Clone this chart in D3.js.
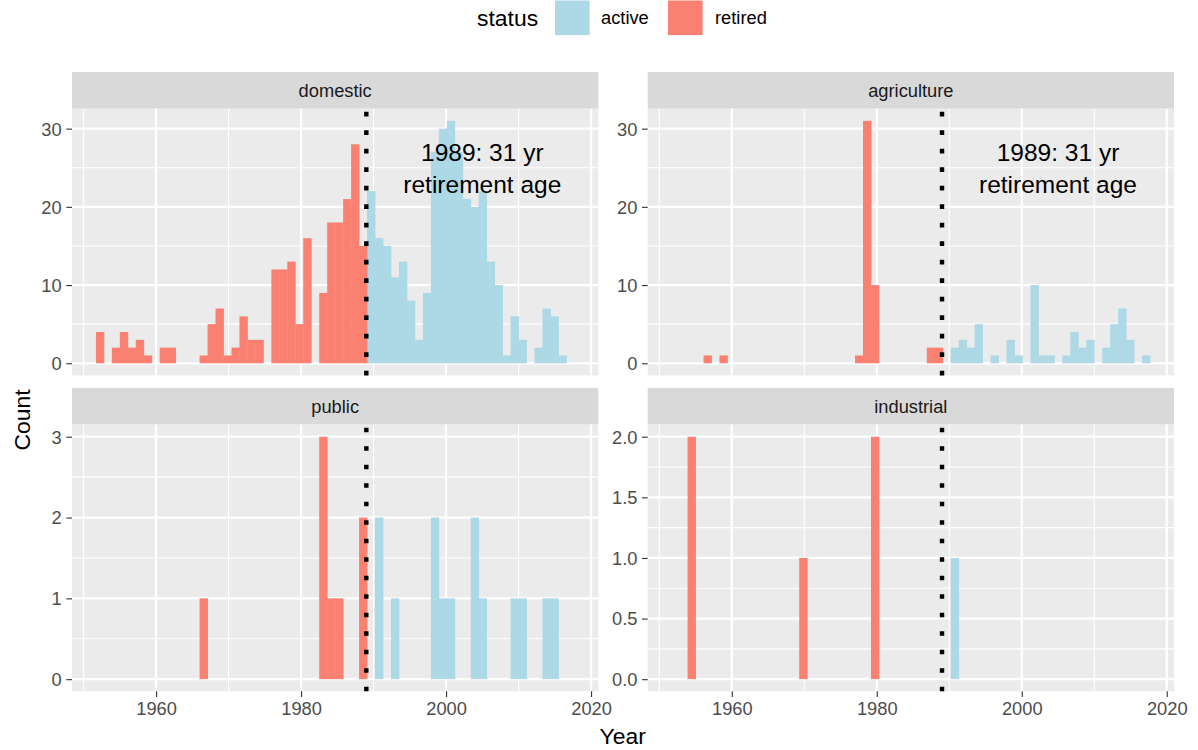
<!DOCTYPE html>
<html>
<head>
<meta charset="utf-8">
<script src="https://cdn.jsdelivr.net/npm/d3@7"></script>
<style>
  body { margin: 0; background: #fff; }
  text { font-family: "Liberation Sans", Arial, Helvetica, sans-serif; }
</style>
</head>
<body>
<div id="chart"></div>
<script>
// histogram bins: 60 bins of 1.1 yr, first one starts at 1951.7
const binStart = 1951.7
const binWidth = 1.1

const facets = ['domestic', 'agriculture', 'public', 'industrial']
const statuses = ['active', 'retired']
const statusColors = ['#ADD8E6', '#FA8072']

// counts per bin (index 0..59)
const domesticRetired = [
  4, 0, 2, 4, 2, 3, 1, 0, 2, 2,
  0, 0, 0, 1, 5, 7, 1, 2, 6, 3,
  3, 0, 12, 12, 13, 5, 16, 0, 9, 18,
  18, 21, 28, 15, 0, 0, 0, 0, 0, 0,
  0, 0, 0, 0, 0, 0, 0, 0, 0, 0,
  0, 0, 0, 0, 0, 0, 0, 0, 0, 0]
const domesticActive = [
  0, 0, 0, 0, 0, 0, 0, 0, 0, 0,
  0, 0, 0, 0, 0, 0, 0, 0, 0, 0,
  0, 0, 0, 0, 0, 0, 0, 0, 0, 0,
  0, 0, 0, 0, 22, 16, 15, 11, 13, 8,
  3, 9, 27, 30, 31, 27, 21, 20, 22, 13,
  10, 1, 6, 3, 0, 2, 7, 6, 1, 0]
const agricultureRetired = [
  0, 0, 0, 0, 1, 0, 1, 0, 0, 0,
  0, 0, 0, 0, 0, 0, 0, 0, 0, 0,
  0, 0, 0, 1, 31, 10, 0, 0, 0, 0,
  0, 0, 2, 2, 0, 0, 0, 0, 0, 0,
  0, 0, 0, 0, 0, 0, 0, 0, 0, 0,
  0, 0, 0, 0, 0, 0, 0, 0, 0, 0]
const agricultureActive = [
  0, 0, 0, 0, 0, 0, 0, 0, 0, 0,
  0, 0, 0, 0, 0, 0, 0, 0, 0, 0,
  0, 0, 0, 0, 0, 0, 0, 0, 0, 0,
  0, 0, 0, 0, 0, 2, 3, 2, 5, 0,
  1, 0, 3, 1, 0, 10, 1, 1, 0, 1,
  4, 2, 3, 0, 2, 5, 7, 3, 0, 1]
const publicRetired = [
  0, 0, 0, 0, 0, 0, 0, 0, 0, 0,
  0, 0, 0, 1, 0, 0, 0, 0, 0, 0,
  0, 0, 0, 0, 0, 0, 0, 0, 3, 1,
  1, 0, 0, 2, 0, 0, 0, 0, 0, 0,
  0, 0, 0, 0, 0, 0, 0, 0, 0, 0,
  0, 0, 0, 0, 0, 0, 0, 0, 0, 0]
const publicActive = [
  0, 0, 0, 0, 0, 0, 0, 0, 0, 0,
  0, 0, 0, 0, 0, 0, 0, 0, 0, 0,
  0, 0, 0, 0, 0, 0, 0, 0, 0, 0,
  0, 0, 0, 0, 0, 2, 0, 1, 0, 0,
  0, 0, 2, 1, 1, 0, 0, 2, 1, 0,
  0, 0, 1, 1, 0, 0, 1, 1, 0, 0]
const industrialRetired = [
  0, 0, 2, 0, 0, 0, 0, 0, 0, 0,
  0, 0, 0, 0, 0, 0, 1, 0, 0, 0,
  0, 0, 0, 0, 0, 2, 0, 0, 0, 0,
  0, 0, 0, 0, 0, 0, 0, 0, 0, 0,
  0, 0, 0, 0, 0, 0, 0, 0, 0, 0,
  0, 0, 0, 0, 0, 0, 0, 0, 0, 0]
const industrialActive = [
  0, 0, 0, 0, 0, 0, 0, 0, 0, 0,
  0, 0, 0, 0, 0, 0, 0, 0, 0, 0,
  0, 0, 0, 0, 0, 0, 0, 0, 0, 0,
  0, 0, 0, 0, 0, 1, 0, 0, 0, 0,
  0, 0, 0, 0, 0, 0, 0, 0, 0, 0,
  0, 0, 0, 0, 0, 0, 0, 0, 0, 0]

const retireYear = 1989
const noteLines = ['1989: 31 yr', 'retirement age']
const notePos = [2005, 25]

// ticks
const xTicks = [1960, 1980, 2000, 2020]
const xMinor = [1950, 1970, 1990, 2010]
const yTicksBig = [0, 10, 20, 30]
const yMinorBig = [5, 15, 25]
const yTicksPublic = [0, 1, 2, 3]
const yMinorPublic = [0.5, 1.5, 2.5]
const yTicksInd = [0, 0.5, 1, 1.5, 2]
const yMinorInd = [0.25, 0.75, 1.25, 1.75]

const panels = [
  { name: facets[0], active: domesticActive, retired: domesticRetired, ticks: yTicksBig, minor: yMinorBig, fmt: d3.format('d'), note: true },
  { name: facets[1], active: agricultureActive, retired: agricultureRetired, ticks: yTicksBig, minor: yMinorBig, fmt: d3.format('d'), note: true },
  { name: facets[2], active: publicActive, retired: publicRetired, ticks: yTicksPublic, minor: yMinorPublic, fmt: d3.format('d'), note: false },
  { name: facets[3], active: industrialActive, retired: industrialRetired, ticks: yTicksInd, minor: yMinorInd, fmt: d3.format('.1f'), note: false },
]

// dimensions
const dimensions = {
  width: 1198,
  height: 750,
  colX: [72, 647.7],
  rowY: [108.7, 424.6],
  panelW: 526.3,
  panelH: 266.7,
  stripH: 36.7,
}

const svg = d3.select('#chart')
  .append('svg')
  .attr('width', dimensions.width)
  .attr('height', dimensions.height)

const nBins = domesticActive.length
const xLo = binStart, xHi = binStart + nBins * binWidth
const xPad = (xHi - xLo) * 0.05

panels.forEach((p, i) => {
  const px = dimensions.colX[i % 2]
  const py = dimensions.rowY[Math.floor(i / 2)]
  const w = dimensions.panelW, h = dimensions.panelH

  const xScale = d3.scaleLinear().domain([xLo - xPad, xHi + xPad]).range([0, w])
  const yMax = d3.max([...p.active, ...p.retired])
  const yScale = d3.scaleLinear().domain([-yMax * 0.05, yMax * 1.05]).range([h, 0])

  // strip
  svg.append('rect')
    .attr('x', px).attr('y', py - dimensions.stripH)
    .attr('width', w).attr('height', dimensions.stripH)
    .attr('fill', '#D9D9D9')
  svg.append('text')
    .attr('x', px + w / 2).attr('y', py - dimensions.stripH / 2 + 6.4)
    .attr('text-anchor', 'middle')
    .attr('font-size', 18.3)
    .attr('fill', '#1A1A1A')
    .text(p.name)

  const ctr = svg.append('g').attr('transform', `translate(${px}, ${py})`)

  ctr.append('rect').attr('width', w).attr('height', h).attr('fill', '#EBEBEB')

  // grid
  ctr.selectAll('.vminor').data(xMinor).join('line')
    .attr('x1', d => xScale(d)).attr('x2', d => xScale(d))
    .attr('y1', 0).attr('y2', h)
    .attr('stroke', '#fff').attr('stroke-width', 1.1)
  ctr.selectAll('.hminor').data(p.minor).join('line')
    .attr('x1', 0).attr('x2', w)
    .attr('y1', d => yScale(d)).attr('y2', d => yScale(d))
    .attr('stroke', '#fff').attr('stroke-width', 1.1)
  ctr.selectAll('.vmajor').data(xTicks).join('line')
    .attr('x1', d => xScale(d)).attr('x2', d => xScale(d))
    .attr('y1', 0).attr('y2', h)
    .attr('stroke', '#fff').attr('stroke-width', 2.2)
  ctr.selectAll('.hmajor').data(p.ticks).join('line')
    .attr('x1', 0).attr('x2', w)
    .attr('y1', d => yScale(d)).attr('y2', d => yScale(d))
    .attr('stroke', '#fff').attr('stroke-width', 2.2)

  // bars
  statuses.forEach((s, si) => {
    const counts = p[s].map((c, k) => ({ k, c })).filter(d => d.c > 0)
    ctr.append('g').selectAll('rect')
      .data(counts)
      .join('rect')
      .attr('x', d => xScale(binStart + d.k * binWidth))
      .attr('width', d => xScale(binStart + (d.k + 1) * binWidth) - xScale(binStart + d.k * binWidth) + 0.4)
      .attr('y', d => yScale(d.c))
      .attr('height', d => yScale(0) - yScale(d.c))
      .attr('fill', statusColors[si])
  })

  // retirement year line (drawn bottom to top)
  ctr.append('path')
    .attr('d', `M${xScale(retireYear)},${h} L${xScale(retireYear)},0`)
    .attr('stroke', '#000')
    .attr('stroke-width', 4.4)
    .attr('stroke-dasharray', '4.6 13.9')
    .attr('fill', 'none')

  if (p.note) {
    const t = ctr.append('text')
      .attr('text-anchor', 'middle')
      .attr('font-size', 24.5)
      .attr('fill', '#000')
    const cx = xScale(notePos[0]), cy = yScale(notePos[1])
    t.append('tspan').attr('x', cx).attr('y', cy - 6.8).text(noteLines[0])
    t.append('tspan').attr('x', cx).attr('y', cy + 25.5).text(noteLines[1])
  }

  // axes
  const yAxis = d3.axisLeft(yScale)
    .tickValues(p.ticks)
    .tickFormat(p.fmt)
    .tickSize(5.7)
    .tickPadding(4.6)
  const yAxisGroup = ctr.append('g').call(yAxis)
  yAxisGroup.select('.domain').remove()
  yAxisGroup.selectAll('line').attr('stroke', '#333333').attr('stroke-width', 1.1)
  yAxisGroup.selectAll('text')
    .attr('fill', '#4D4D4D').attr('font-size', 18.3)
    .attr('font-family', '"Liberation Sans", Arial, sans-serif')
    .attr('dy', '0.35em')

  if (i >= 2) {
    const xAxis = d3.axisBottom(xScale)
      .tickValues(xTicks)
      .tickFormat(d3.format('d'))
      .tickSize(5.7)
      .tickPadding(4.6)
    const xAxisGroup = ctr.append('g')
      .attr('transform', `translate(0, ${h})`)
      .call(xAxis)
    xAxisGroup.select('.domain').remove()
    xAxisGroup.selectAll('line').attr('stroke', '#333333').attr('stroke-width', 1.1)
    xAxisGroup.selectAll('text')
      .attr('fill', '#4D4D4D').attr('font-size', 18.3)
      .attr('font-family', '"Liberation Sans", Arial, sans-serif')
      .attr('dy', '0.72em')
  }
})

// axis titles
svg.append('text')
  .attr('x', 622.7).attr('y', 744)
  .attr('text-anchor', 'middle')
  .attr('font-size', 22.9)
  .text('Year')

svg.append('text')
  .attr('transform', 'translate(29.5, 420) rotate(-90)')
  .attr('text-anchor', 'middle')
  .attr('font-size', 22.9)
  .text('Count')

// legend
const legend = svg.append('g')
legend.append('text')
  .attr('x', 477).attr('y', 26)
  .attr('font-size', 22.9)
  .text('status')
const keyX = [555, 668]
const labelX = [601, 715]
statuses.forEach((s, si) => {
  legend.append('rect')
    .attr('x', keyX[si]).attr('y', 0.5)
    .attr('width', 34.6).attr('height', 34.6)
    .attr('fill', statusColors[si])
  legend.append('text')
    .attr('x', labelX[si]).attr('y', 24.3)
    .attr('font-size', 18.3)
    .text(s)
})
</script>
</body>
</html>
